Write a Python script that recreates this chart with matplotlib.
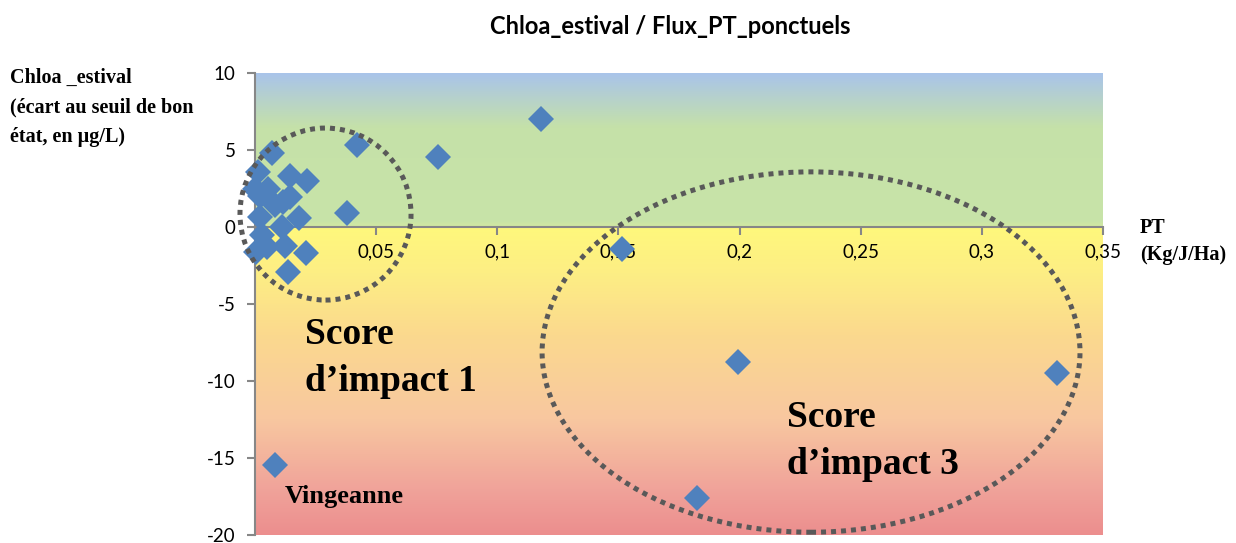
import numpy as np
import matplotlib
matplotlib.use("Agg")
import matplotlib.pyplot as plt
from matplotlib.patches import Ellipse
from matplotlib.colors import to_rgb

# ---- data ----
pt_flux = [0.0069, 0.0420, 0.0014, 0.0144, 0.0213, 0.0000, 0.0055, 0.0020,
           0.0144, 0.0117, 0.0083, 0.0378, 0.0020, 0.0183, 0.0110, 0.0028,
           0.0048, 0.0124, 0.0210, 0.0137, 0.0003,
           0.1180, 0.0755, 0.1515, 0.1993, 0.3310, 0.1824, 0.0083]
chloa = [4.79, 5.32, 3.59, 3.31, 2.99, 2.50, 2.50, 2.00,
         1.97, 1.64, 1.43, 0.89, 0.63, 0.56, 0.02, -0.52,
         -1.28, -1.23, -1.71, -2.90, -1.60,
         7.01, 4.55, -1.43, -8.77, -9.48, -17.60, -15.45]
x_ticks = [0, 0.05, 0.1, 0.15, 0.2, 0.25, 0.3, 0.35]
x_tick_labels = ["0", "0,05", "0,1", "0,15", "0,2", "0,25", "0,3", "0,35"]
y_ticks = [-20, -15, -10, -5, 0, 5, 10]
y_tick_labels = ["-20", "-15", "-10", "-5", "0", "5", "10"]

title = "Chloa_estival / Flux_PT_ponctuels"
ylabel = "Chloa _estival\n(écart au seuil de bon\nétat, en µg/L)"
xlabel = "PT\n(Kg/J/Ha)"

W, H = 1236, 543
fig = plt.figure(figsize=(W / 100, H / 100), dpi=100)
ax = fig.add_axes([255 / W, 1 - 535 / H, (1103 - 255) / W, (535 - 73) / H])
ax.set_xlim(0, 0.35)
ax.set_ylim(-20, 10)

# background gradient
stops = [(10, "#a9c4ea"), (6.5, "#c5e1a9"), (0.4, "#c8e4a8"), (0.0001, "#d4eaa0"),
         (0.0, "#fff87c"), (-3, "#fdee84"), (-7, "#fbd98e"), (-12.5, "#f8c7a0"),
         (-17, "#f0a39a"), (-20, "#ec8e8e")]
ys = np.linspace(10, -20, 900)
sy = np.array([s[0] for s in stops])[::-1]
cols = np.array([to_rgb(s[1]) for s in stops])[::-1]
img = np.zeros((len(ys), 1, 3))
for c in range(3):
    img[:, 0, c] = np.interp(ys, sy, cols[:, c])
ax.imshow(img, extent=[0, 0.35, -20, 10], aspect="auto", zorder=0, interpolation="bilinear")

# spines
for s in ["top", "right"]:
    ax.spines[s].set_visible(False)
ax.spines["left"].set_color("#878787")
ax.spines["left"].set_linewidth(1.5)
ax.spines["bottom"].set_position(("data", 0))
ax.spines["bottom"].set_color("#878787")
ax.spines["bottom"].set_linewidth(1.5)
ax.spines["bottom"].set_zorder(1)

ax.set_xticks(x_ticks)
ax.set_xticklabels(x_tick_labels)
ax.set_yticks(y_ticks)
ax.set_yticklabels(y_tick_labels)
ax.tick_params(axis="both", direction="out", length=6, width=1.5, color="#878787",
               labelsize=13.5, labelcolor="#000000")
ax.tick_params(axis="x", pad=6)
ax.tick_params(axis="y", pad=8)
for lab in ax.get_xticklabels() + ax.get_yticklabels():
    lab.set_family("Lato")

ax.plot(pt_flux, chloa, linestyle="none", marker="D", markersize=13,
        color="#4f81bd", markeredgewidth=0, zorder=3, clip_on=False)

# dotted ellipses
e1 = Ellipse((0.0291, 0.84), 0.0706, 11.17, fill=False, edgecolor="#595959",
             linewidth=3.6, linestyle=(0, (1, 1.0)), zorder=4, clip_on=False)
e2 = Ellipse((0.2295, -8.12), 0.222, 23.4, fill=False, edgecolor="#595959",
             linewidth=3.6, linestyle=(0, (1, 1.0)), zorder=4, clip_on=False)
e1.set_capstyle("butt")
e2.set_capstyle("butt")
ax.add_patch(e1)
ax.add_patch(e2)

serif = "Liberation Serif"
fig.text(670 / W, 1 - 27 / H, title, ha="center", va="center", fontsize=17,
         fontweight="bold", family="Lato")
fig.text(10 / W, 1 - 68 / H, ylabel, ha="left", va="top", fontsize=14.5,
         fontweight="bold", family=serif, linespacing=1.62)
fig.text(1140 / W, 1 - 218 / H, xlabel, ha="left", va="top", fontsize=14.5,
         fontweight="bold", family=serif, linespacing=1.45)
fig.text(305 / W, 1 - 358 / H, "Score\nd’impact 1", ha="left", va="center",
         fontsize=27, fontweight="bold", family=serif, linespacing=1.45)
fig.text(787 / W, 1 - 441 / H, "Score\nd’impact 3", ha="left", va="center",
         fontsize=27, fontweight="bold", family=serif, linespacing=1.45)
fig.text(285 / W, 1 - 497 / H, "Vingeanne", ha="left", va="center",
         fontsize=19, fontweight="bold", family=serif)

fig.savefig("out.png", dpi=100)
